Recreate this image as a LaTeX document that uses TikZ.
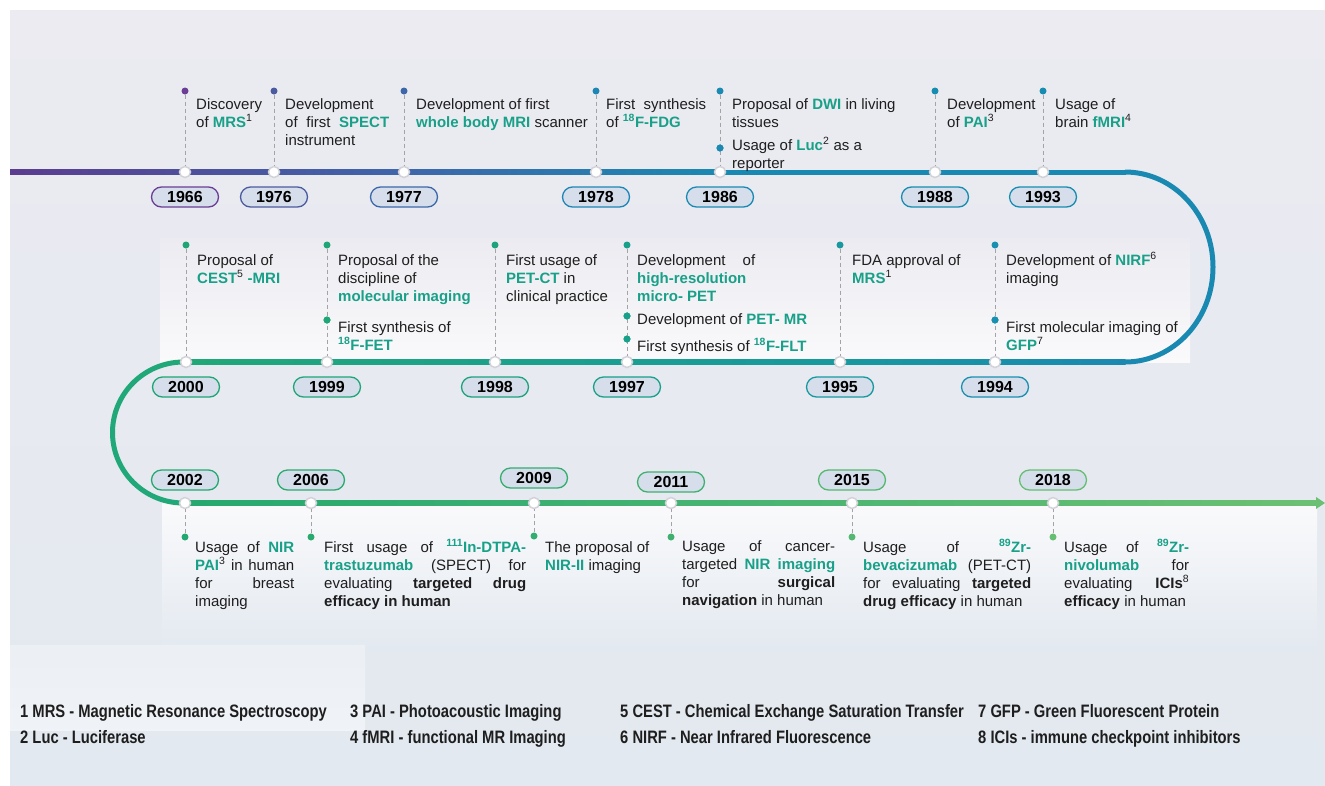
\documentclass[tikz,border=0pt]{standalone}
\usepackage{fontspec}
\setmainfont{Liberation Sans}
\newfontfamily\legendfont[FakeStretch=0.82]{Liberation Sans}
\usetikzlibrary{arrows.meta}
\definecolor{bgtop}{HTML}{EBEBF1}
\definecolor{bgbot}{HTML}{E3E9F0}
\definecolor{hl}{HTML}{18A088}
\definecolor{txt}{HTML}{1E1E1E}
\definecolor{cpur}{HTML}{5B3C8F}
\definecolor{cblue}{HTML}{3F66AA}
\definecolor{ctb}{HTML}{1A89B1}
\definecolor{cteal}{HTML}{17999E}
\definecolor{cgreen}{HTML}{20A878}
\definecolor{cgA}{HTML}{26A870}
\definecolor{cgB}{HTML}{6CC073}
\definecolor{pillfill}{HTML}{D5DEEA}
\definecolor{dashc}{HTML}{A3A3A8}
\definecolor{mk}{HTML}{D2D2D8}
\definecolor{k66}{HTML}{6A3E95}
\definecolor{k76}{HTML}{4B5BA0}
\definecolor{k77}{HTML}{3C68AA}
\definecolor{k78}{HTML}{1E86B4}
\definecolor{k86}{HTML}{1A8AB3}
\definecolor{k88}{HTML}{168DB0}
\definecolor{k00}{HTML}{1DA573}
\definecolor{k99}{HTML}{1FA676}
\definecolor{k98}{HTML}{1CA27C}
\definecolor{k97}{HTML}{17A08A}
\definecolor{k95}{HTML}{1899A0}
\definecolor{k94}{HTML}{1990B0}
\definecolor{k02}{HTML}{24A870}
\definecolor{k06}{HTML}{2BAA70}
\definecolor{k09}{HTML}{33AD70}
\definecolor{k11}{HTML}{40B070}
\definecolor{k15}{HTML}{55B872}
\definecolor{k18}{HTML}{66BE73}
\newcommand\hb[1]{\textcolor{hl}{\textbf{#1}}}
\newcommand\bb[1]{\textbf{#1}}
\newcommand\sps[1]{\textsuperscript{#1}}
\newcommand\js[2]{\makebox[#1][s]{#2}}
\newcommand\fst{\rule{0pt}{13pt}}
\begin{document}
\begin{tikzpicture}[x=1pt,y=-1pt,
  yrmark/.style={circle, fill=white, draw=mk, line width=1.5pt, minimum size=11pt, inner sep=0pt},
  dotc/.style={circle, fill=#1, minimum size=7pt, inner sep=0pt},
  pill/.style={draw=#1, fill=pillfill, rounded corners=10pt, minimum width=67pt, minimum height=20pt, inner sep=0pt, line width=1.3pt, font=\fontsize{16}{16}\selectfont\bfseries, text=black},
  conn/.style={draw=dashc, dash pattern=on 4pt off 3pt, line width=1pt},
  evt/.style={anchor=north west, inner sep=0pt, align=left, font=\fontsize{15}{18}\selectfont, text=txt},
  leg/.style={anchor=base west, inner sep=0pt, font=\legendfont\bfseries\fontsize{18}{18}\selectfont, text=txt}]
\useasboundingbox (0,0) rectangle (1325,785);
\fill[white] (0,0) rectangle (1325,785);
\shade[top color=bgtop,bottom color=bgbot] (10,10) rectangle (1325,785);
% light panels
\shade[top color=bgtop, bottom color=white!75!bgtop] (160,238) rectangle (1190,362);
\shade[top color=white!75!bgtop, bottom color=bgbot] (162,503) rectangle (1317,650);
\shade[top color=white!30!bgbot, bottom color=white!45!bgbot] (10,645) rectangle (365,730);
% timeline
\shade[left color=cpur,right color=cblue] (10,169.5) rectangle (404,174.5);
\shade[left color=cblue,right color=ctb] (404,169.5) rectangle (720,174.5);
\fill[ctb] (719.5,169.5) rectangle (1125.5,174.5);
\draw[ctb, line width=5pt] (1125,172) arc[start angle=-90,end angle=90,x radius=88,y radius=95];
\shade[left color=cteal, right color=ctb] (840,359.5) rectangle (1125.5,364.5);
\shade[left color=cgreen,right color=cteal] (183,359.5) rectangle (840.5,364.5);
\draw[cgreen, line width=5pt] (183.5,362) arc[start angle=270,end angle=90,x radius=71,y radius=70.5];
\shade[left color=cgA, right color=cgB] (183,500.5) rectangle (1318,505.5);
\fill[cgB] (1316,497) -- (1325,503) -- (1316,509) -- cycle;
% ---------- row 1 ----------
\node[yrmark] (m1966) at (185,172) {};
\node[pill=k66] (y1966) at (185,197) {1966};
\node[dotc=k66] (d1966) at (185,91) {};
\node[evt] (t1966) at (196,96) {\fst Discovery\\of \hb{MRS}\sps{1}};
\node[yrmark] (m1976) at (274,172) {};
\node[pill=k76] (y1976) at (274,197) {1976};
\node[dotc=k76] (d1976) at (274,91) {};
\node[evt] (t1976) at (285,96) {\fst Development\\\js{104pt}{of first \hb{SPECT}}\\instrument};
\node[yrmark] (m1977) at (404,172) {};
\node[pill=k77] (y1977) at (404,197) {1977};
\node[dotc=k77] (d1977) at (404,91) {};
\node[evt] (t1977) at (416,96) {\fst Development of first\\\hb{whole body MRI} scanner};
\node[yrmark] (m1978) at (596,172) {};
\node[pill=k78] (y1978) at (596,197) {1978};
\node[dotc=k78] (d1978) at (596,91) {};
\node[evt] (t1978) at (606,96) {\fst\js{100pt}{First synthesis}\\of \hb{\sps{18}F-FDG}};
\node[yrmark] (m1986) at (720,172) {};
\node[pill=k86] (y1986) at (720,197) {1986};
\node[dotc=k86] (d1986) at (720,91) {};
\node[dotc=k86] (e1986) at (720,148) {};
\node[evt] (t1986) at (732,96) {\fst Proposal of \hb{DWI} in living\\tissues};
\node[evt] (u1986) at (732,137) {\fst Usage of \hb{Luc}\sps{2} as a\\reporter};
\node[yrmark] (m1988) at (935,172) {};
\node[pill=k88] (y1988) at (935,197) {1988};
\node[dotc=k88] (d1988) at (935,91) {};
\node[evt] (t1988) at (947,96) {\fst Development\\of \hb{PAI}\sps{3}};
\node[yrmark] (m1993) at (1043,172) {};
\node[pill=k88] (y1993) at (1043,197) {1993};
\node[dotc=k88] (d1993) at (1043,91) {};
\node[evt] (t1993) at (1055,96) {\fst Usage of\\brain \hb{fMRI}\sps{4}};
% ---------- row 2 ----------
\node[yrmark] (m2000) at (186,362) {};
\node[pill=k00] (y2000) at (186,387) {2000};
\node[dotc=k00] (d2000) at (186,245) {};
\node[evt] (t2000) at (197,252) {\fst Proposal of\\\hb{CEST}\sps{5} \hb{-MRI}};
\node[yrmark] (m1999) at (327,362) {};
\node[pill=k99] (y1999) at (327,387) {1999};
\node[dotc=k99] (d1999) at (327,245) {};
\node[dotc=k99] (e1999) at (327,320) {};
\node[evt] (t1999) at (338,252) {\fst Proposal of the\\discipline of\\\hb{molecular imaging}};
\node[evt] (u1999) at (338,319) {\fst First synthesis of\\\hb{\sps{18}F-FET}};
\node[yrmark] (m1998) at (495,362) {};
\node[pill=k98] (y1998) at (495,387) {1998};
\node[dotc=k98] (d1998) at (495,245) {};
\node[evt] (t1998) at (506,252) {\fst First usage of\\\hb{PET-CT} in\\clinical practice};
\node[yrmark] (m1997) at (627,362) {};
\node[pill=k97] (y1997) at (627,387) {1997};
\node[dotc=k97] (d1997) at (627,245) {};
\node[dotc=k97] (e1997) at (627,316) {};
\node[dotc=k97] (f1997) at (627,339) {};
\node[evt] (t1997) at (637,252) {\fst\js{118pt}{Development of}\\\hb{high-resolution}\\\hb{micro- PET}};
\node[evt] (u1997) at (637,311) {\fst Development of \hb{PET- MR}};
\node[evt] (v1997) at (637,338) {\fst First synthesis of \hb{\sps{18}F-FLT}};
\node[yrmark] (m1995) at (840,362) {};
\node[pill=k95] (y1995) at (840,387) {1995};
\node[dotc=k95] (d1995) at (840,245) {};
\node[evt] (t1995) at (852,252) {\fst FDA approval of\\\hb{MRS}\sps{1}};
\node[yrmark] (m1994) at (995,362) {};
\node[pill=k94] (y1994) at (995,387) {1994};
\node[dotc=k94] (d1994) at (995,245) {};
\node[dotc=k94] (e1994) at (995,320) {};
\node[evt] (t1994) at (1006,252) {\fst Development of \hb{NIRF}\sps{6}\\imaging};
\node[evt] (u1994) at (1006,319) {\fst First molecular imaging of\\\hb{GFP}\sps{7}};
% ---------- row 3 ----------
\node[yrmark] (m2002) at (185,503) {};
\node[pill=k02] (y2002) at (185,480) {2002};
\node[dotc=k02] (d2002) at (185,537) {};
\node[evt] (t2002) at (195,539) {\fst\js{99pt}{Usage of \hb{NIR}}\\\js{99pt}{\hb{PAI}\sps{3} in human}\\\js{99pt}{for breast}\\imaging};
\node[yrmark] (m2006) at (311,503) {};
\node[pill=k06] (y2006) at (311,480) {2006};
\node[dotc=k06] (d2006) at (311,537) {};
\node[evt] (t2006) at (324,539) {\fst\js{202pt}{First usage of \hb{\sps{111}In-DTPA-}}\\\js{202pt}{\hb{trastuzumab} (SPECT) for}\\\js{202pt}{evaluating \bb{targeted drug}}\\\bb{efficacy in human}};
\node[yrmark] (m2009) at (534,503) {};
\node[pill=k09] (y2009) at (534,478) {2009};
\node[dotc=k09] (d2009) at (534,536) {};
\node[evt] (t2009) at (545,539) {\fst The proposal of\\\hb{NIR-II} imaging};
\node[yrmark] (m2011) at (671,503) {};
\node[pill=k11] (y2011) at (671,482) {2011};
\node[dotc=k11] (d2011) at (671,537) {};
\node[evt] (t2011) at (682,538) {\fst\js{153pt}{Usage of cancer-}\\\js{153pt}{targeted \hb{NIR} \hb{imaging}}\\\js{153pt}{for \bb{surgical}}\\\bb{navigation} in human};
\node[yrmark] (m2015) at (852,503) {};
\node[pill=k15] (y2015) at (852,480) {2015};
\node[dotc=k15] (d2015) at (852,537) {};
\node[evt] (t2015) at (863,539) {\fst\js{168pt}{Usage of \hb{\sps{89}Zr-}}\\\js{168pt}{\hb{bevacizumab} (PET-CT)}\\\js{168pt}{for evaluating \bb{targeted}}\\\bb{drug efficacy} in human};
\node[yrmark] (m2018) at (1053,503) {};
\node[pill=k18] (y2018) at (1053,480) {2018};
\node[dotc=k18] (d2018) at (1053,537) {};
\node[evt] (t2018) at (1064,539) {\fst\js{125pt}{Usage of \hb{\sps{89}Zr-}}\\\js{125pt}{\hb{nivolumab} for}\\\js{125pt}{evaluating \bb{ICIs}\sps{8}}\\\bb{efficacy} in human};
% connectors
\foreach \y in {1966,1976,1977,1978,1986,1988,1993,2000,1999,1998,1997,1995,1994,2002,2006,2009,2011,2015,2018}
  \draw[conn] (d\y) -- (m\y);
% redraw second dots on top
\node[dotc=k86] at (e1986) {};
\node[dotc=k99] at (e1999) {};
\node[dotc=k97] at (e1997) {};
\node[dotc=k97] at (f1997) {};
\node[dotc=k94] at (e1994) {};
% legend
\node[leg] (l1) at (20,717.5) {1 MRS - Magnetic Resonance Spectroscopy};
\node[leg] (l2) at (20,743) {2 Luc - Luciferase};
\node[leg] (l3) at (350,717.5) {3 PAI - Photoacoustic Imaging};
\node[leg] (l4) at (350,743) {4 fMRI - functional MR Imaging};
\node[leg] (l5) at (620,717.5) {5 CEST - Chemical Exchange Saturation Transfer};
\node[leg] (l6) at (620,743) {6 NIRF - Near Infrared Fluorescence};
\node[leg] (l7) at (978,717.5) {7 GFP - Green Fluorescent Protein};
\node[leg] (l8) at (978,743) {8 ICIs - immune checkpoint inhibitors};
\end{tikzpicture}
\end{document}
